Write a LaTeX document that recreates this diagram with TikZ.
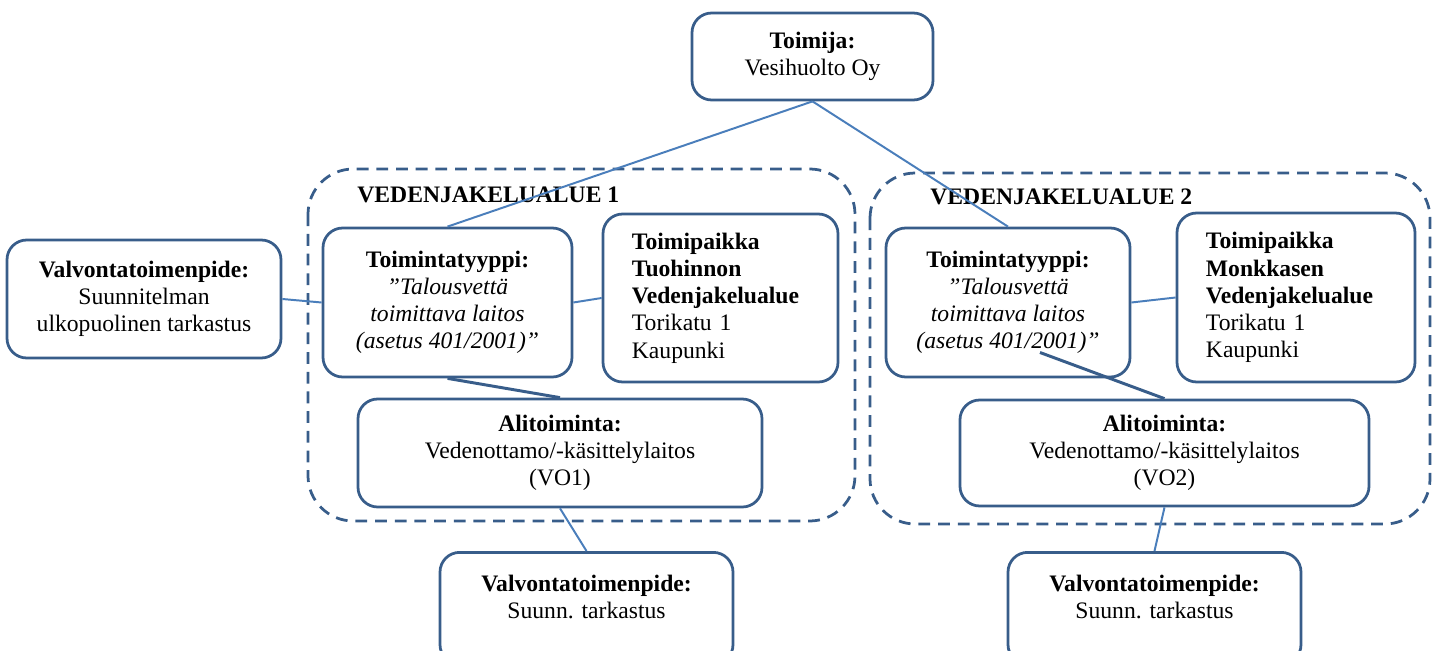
\documentclass[tikz,border=0pt]{standalone}
\usepackage{fontspec}
\setmainfont{Liberation Serif}
\newcommand{\pxu}{0.508pt}
\definecolor{boxblue}{RGB}{56,93,138}
\definecolor{lineblue}{RGB}{74,126,187}
\tikzset{
  box/.style={draw=boxblue, line width=1.4pt, rounded corners=10pt, fill=white, align=center, inner sep=0pt, font=\fontsize{12}{13.8}\selectfont},
  placebox/.style={box, align=left},
  area/.style={draw=boxblue, line width=1.4pt, dash pattern=on 6pt off 4pt, rounded corners=23pt},
  areatitle/.style={font=\fontsize{12}{13.8}\selectfont\bfseries, inner sep=0pt, anchor=base west},
  link/.style={draw=lineblue, line width=1pt},
  heavylink/.style={draw=boxblue, line width=1.5pt}
}
\begin{document}
\begin{tikzpicture}[x=\pxu,y=-\pxu]
                \useasboundingbox (0,0) rectangle (1438,651);

                % water distribution areas
                \draw [area] (308,169) rectangle (855,521);
                \draw [area] (870,173) rectangle (1430,524);
                \node [areatitle] (title1) at (357,202) {VEDENJAKELUALUE 1};
                \node [areatitle] (title2) at (930,204) {VEDENJAKELUALUE 2};

                \node [box, minimum width=241*\pxu, minimum height=87*\pxu] (toimija) at (812.5,56.5) {\textbf{Toimija:}\\Vesihuolto Oy};
                \node [box, minimum width=274*\pxu, minimum height=118*\pxu] (valvL) at (144,299) {\textbf{Valvontatoimenpide:}\\Suunnitelman\\ulkopuolinen tarkastus};

                \node [box, minimum width=249*\pxu, minimum height=149*\pxu] (tt1) at (447.5,302.5) {\textbf{Toimintatyyppi:}\\\textit{”Talousvettä}\\\textit{toimittava laitos}\\\textit{(asetus 401/2001)”}};
                \node [placebox, text width=235*\pxu, minimum height=168*\pxu] (tp1) at (720.5,298) {\leftskip=14.7pt\textbf{Toimipaikka}\\\textbf{Tuohinnon}\\\textbf{Vedenjakelualue}\\Torikatu 1\\Kaupunki\par};
                \node [box, minimum width=404*\pxu, minimum height=108*\pxu] (alt1) at (560,453) {\textbf{Alitoiminta:}\\Vedenottamo/-käsittelylaitos\\(VO1)};
                \node [box, anchor=north, minimum width=293*\pxu, minimum height=112*\pxu, text depth=11.6pt] (valv1) at (586.5,551) {\textbf{Valvontatoimenpide:}\\Suunn. tarkastus};

                \node [box, minimum width=244*\pxu, minimum height=149*\pxu] (tt2) at (1008,302.5) {\textbf{Toimintatyyppi:}\\\textit{”Talousvettä}\\\textit{toimittava laitos}\\\textit{(asetus 401/2001)”}};
                \node [placebox, text width=238*\pxu, minimum height=169*\pxu] (tp2) at (1296,297.5) {\leftskip=14.7pt\textbf{Toimipaikka}\\\textbf{Monkkasen}\\\textbf{Vedenjakelualue}\\Torikatu 1\\Kaupunki\par};
                \node [box, minimum width=409*\pxu, minimum height=106*\pxu] (alt2) at (1164.5,453) {\textbf{Alitoiminta:}\\Vedenottamo/-käsittelylaitos\\(VO2)};
                \node [box, anchor=north, minimum width=293*\pxu, minimum height=112*\pxu, text depth=11.6pt] (valv2) at (1154.5,551) {\textbf{Valvontatoimenpide:}\\Suunn. tarkastus};

                \draw [link] (toimija.south)--(tt1.north);
                \draw [link] (toimija.south)--(tt2.north);
                \draw [link] (valvL.east)--(tt1.west);
                \draw [link] (tt1.east)--(tp1.west);
                \draw [heavylink] (tt1.south)--(alt1.north);
                \draw [link] (alt1.south)--(valv1.north);
                \draw [link] (tt2.east)--(tp2.west);
                \draw [heavylink] ([xshift=32*\pxu,yshift=-50*\pxu]tt2.center)--(alt2.north);
                \draw [link] (alt2.south)--(valv2.north);
\end{tikzpicture}
\end{document}
